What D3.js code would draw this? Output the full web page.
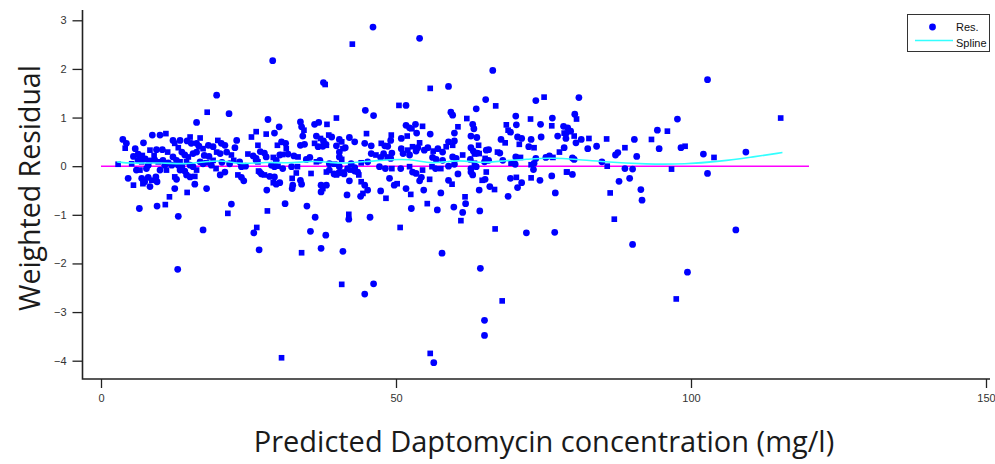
<!DOCTYPE html>
<html>
<head>
<meta charset="utf-8">
<script src="https://cdn.jsdelivr.net/npm/d3@7"></script>
<style>
  body { margin: 0; background: #fff; }
  .tick text { font-family: "Liberation Sans Narrow", "Liberation Sans", Arial, sans-serif; font-size: 11px; fill: #333; }
</style>
</head>
<body>
<svg width="995" height="464"></svg>
<script>
// weighted residuals: [predicted conc (mg/l), residual]
const resPoints = [
  [19.6,1.46],[18.0,1.11],[21.7,1.08],[16.2,0.90],[26.3,0.71],[8.7,0.64],[10.0,0.64],[11.0,0.67],[3.7,0.55],[4.3,0.47],
  [4.1,0.37],[7.2,0.48],[5.8,0.36],[8.3,0.33],[9.4,0.34],[10.4,0.34],[11.3,0.29],[6.3,0.25],[6.6,0.18],[7.0,0.22],
  [7.5,0.15],[6.3,0.12],[6.9,0.09],[8.3,0.11],[9.1,0.13],[9.7,0.09],[10.5,0.12],[11.4,0.07],[12.5,0.47],[13.4,0.53],
  [12.2,0.53],[15.1,0.60],[14.6,0.52],[15.3,0.47],[16.8,0.58],[16.2,0.47],[16.6,0.41],[13.1,0.38],[13.7,0.29],[14.2,0.23],
  [14.8,0.19],[15.6,0.26],[16.2,0.29],[17.3,0.36],[18.2,0.43],[19.0,0.40],[19.8,0.53],[20.4,0.47],[21.0,0.43],[19.6,0.29],
  [20.2,0.26],[21.3,0.29],[22.1,0.23],[22.7,0.38],[23.0,0.53],[24.9,0.25],[25.8,0.21],[26.3,0.12],[26.6,0.43],[23.5,0.09],
  [23.8,-0.01],[23.2,-0.18],[23.8,-0.23],[24.2,-0.30],[26.7,-0.10],[12.2,0.19],[12.8,0.12],[13.4,0.09],[13.1,0.02],[13.7,-0.01],
  [14.5,0.09],[15.1,0.02],[15.6,-0.01],[16.2,-0.08],[14.5,-0.18],[15.1,-0.22],[15.9,-0.21],[16.8,0.09],[17.3,0.05],[17.9,0.07],
  [18.7,0.02],[20.2,-0.18],[11.1,-0.08],[10.0,-0.08],[6.0,-0.08],[6.6,-0.08],[7.7,-0.05],[4.6,-0.25],[5.5,-0.39],[6.9,-0.25],
  [7.4,-0.32],[7.1,-0.36],[8.0,-0.23],[8.3,-0.42],[8.6,-0.29],[9.3,-0.22],[9.5,-0.32],[12.5,-0.22],[12.8,-0.27],[12.5,-0.46],
  [14.6,-0.54],[15.9,-0.37],[17.9,-0.46],[11.6,-0.63],[6.5,-0.87],[9.5,-0.82],[10.9,-0.79],[13.1,-1.03],[22.1,-0.78],[21.5,-0.97],
  [17.3,-1.31],[13.0,-2.12],[26.4,-1.26],[25.9,-1.37],[26.8,-1.72],[2.9,0.04],[13.4,-0.08],[14.2,-0.10],[5.2,0.05],[5.5,0.20],
  [8.0,0.02],[9.0,0.22],[10.8,0.02],[12.0,0.02],[19.0,0.12],[20.5,0.08],[21.8,0.05],[22.5,0.12],[18.3,0.20],[17.5,0.22],
  [19.5,-0.05],[21.0,-0.12],[24.5,0.00],[25.5,0.60],[27.0,0.30],
  [46.1,2.86],[42.6,2.51],[29.1,2.17],[37.7,1.72],[38.0,1.68],[44.8,1.15],[46.2,1.04],[50.5,1.25],[51.7,1.25],[28.3,0.96],
  [39.9,0.99],[33.8,0.91],[34.0,0.81],[34.4,0.74],[36.2,0.86],[36.9,0.90],[38.3,0.86],[30.2,0.81],[29.4,0.68],[28.0,0.66],
  [34.2,0.62],[36.5,0.62],[37.2,0.57],[37.7,0.52],[38.1,0.45],[38.6,0.64],[39.1,0.60],[40.4,0.55],[40.8,0.50],[42.1,0.59],
  [43.0,0.50],[45.0,0.67],[44.7,0.47],[45.8,0.42],[29.9,0.43],[30.6,0.50],[31.3,0.47],[31.4,0.36],[33.8,0.43],[34.5,0.45],
  [36.2,0.47],[36.8,0.40],[37.6,0.41],[38.2,0.43],[39.9,0.42],[40.4,0.29],[41.0,0.36],[41.4,0.38],[40.4,0.19],[40.8,0.14],
  [27.7,0.27],[28.0,0.19],[29.2,0.18],[29.7,0.12],[30.3,0.23],[30.8,0.24],[31.7,0.25],[32.7,0.21],[33.4,0.19],[34.8,0.14],
  [35.4,0.18],[36.5,0.09],[37.1,0.12],[38.7,0.05],[39.6,0.04],[42.4,0.05],[43.0,-0.03],[44.1,0.07],[45.2,0.09],[45.8,0.26],
  [46.6,0.23],[47.4,0.18],[47.9,0.26],[48.5,0.19],[49.1,0.16],[49.3,0.27],[47.5,0.47],[48.1,0.42],[48.6,0.41],[49.2,0.64],
  [49.1,0.53],[50.9,0.57],[51.9,0.62],[51.7,0.84],[52.3,0.79],[52.7,0.77],[50.9,0.36],[51.2,0.26],[52.0,0.33],[52.3,0.23],
  [26.3,0.16],[26.6,0.09],[28.9,0.02],[29.4,-0.01],[30.0,0.00],[30.8,-0.05],[32.3,-0.01],[33.3,-0.01],[26.9,-0.12],[27.2,-0.16],
  [27.7,-0.18],[28.6,-0.21],[29.4,-0.22],[29.2,-0.34],[29.7,-0.37],[30.3,-0.34],[32.4,-0.25],[32.5,-0.39],[32.4,-0.46],[33.1,-0.14],
  [33.8,-0.29],[34.0,-0.37],[35.6,-0.15],[28.1,-0.49],[37.3,-0.39],[37.6,-0.46],[37.3,-0.53],[38.2,-0.39],[38.2,-0.12],[38.7,-0.08],
  [39.5,-0.16],[39.9,-0.18],[40.3,-0.14],[40.4,-0.01],[41.0,-0.12],[41.2,-0.16],[41.8,-0.05],[42.3,-0.08],[43.0,-0.10],[43.5,-0.12],
  [43.7,-0.18],[42.1,-0.30],[41.7,-0.59],[44.1,-0.32],[44.7,-0.39],[45.2,-0.49],[44.4,-0.56],[44.0,-0.62],[47.4,-0.51],[48.3,-0.66],
  [48.9,-0.25],[49.7,-0.39],[50.2,-0.36],[47.2,-0.01],[48.2,-0.05],[49.3,-0.05],[50.8,-0.05],[51.7,-0.46],[52.5,-0.58],[52.6,-0.87],
  [31.2,-0.77],[28.2,-0.92],[34.9,-0.82],[36.3,-1.05],[42.0,-0.99],[42.0,-1.09],[45.6,-1.05],[50.7,-1.26],[35.5,-1.34],[38.1,-1.42],
  [34.0,-1.78],[37.3,-1.69],[41.0,-1.75],[40.8,-2.43],[46.2,-2.42],[44.7,-2.63],[30.6,-3.94],
  [54.0,2.63],[66.4,1.97],[55.8,1.60],[58.9,1.64],[65.2,1.37],[66.9,1.24],[63.6,1.18],[73.7,1.35],[75.1,1.42],[59.3,1.11],
  [59.6,1.05],[62.0,0.98],[63.0,0.86],[63.2,0.77],[60.5,0.81],[59.9,0.68],[53.3,0.86],[54.5,0.82],[53.5,0.68],[55.8,0.66],
  [68.7,0.85],[70.4,0.85],[70.3,1.03],[72.8,0.97],[74.5,0.86],[76.5,0.99],[76.4,0.83],[78.4,0.82],[79.1,0.79],[78.5,0.68],
  [78.8,0.57],[77.4,0.62],[69.0,0.74],[69.4,0.70],[67.8,0.55],[68.5,0.48],[70.6,0.60],[71.3,0.57],[70.9,0.45],[72.9,0.55],
  [72.5,0.40],[73.4,0.38],[74.6,0.60],[78.5,0.38],[77.7,0.29],[63.7,0.59],[62.7,0.62],[64.0,0.43],[62.7,0.38],[63.1,0.31],
  [64.1,0.26],[65.3,0.33],[65.7,0.34],[65.1,0.16],[65.7,0.12],[65.0,0.09],[63.3,0.06],[63.6,-0.01],[62.7,-0.05],[67.2,0.29],
  [67.6,0.27],[68.1,0.12],[69.5,0.06],[70.2,0.04],[70.3,0.19],[71.1,0.18],[73.7,0.16],[73.4,0.06],[72.9,0.03],[75.4,0.18],
  [76.0,0.21],[76.6,0.18],[73.3,-0.07],[69.4,-0.25],[70.4,-0.23],[71.3,-0.34],[70.6,-0.44],[72.9,-0.24],[74.4,-0.29],[76.4,-0.20],
  [78.9,-0.12],[77.0,-0.55],[69.0,-0.62],[66.8,-1.29],[72.1,-1.37],[76.9,-1.36],[52.8,0.40],[53.4,0.31],[53.7,0.38],[54.0,0.48],
  [54.8,0.33],[55.4,0.38],[56.3,0.31],[57.1,0.36],[57.9,0.29],[58.5,0.40],[58.9,0.50],[59.9,0.52],[59.6,0.43],[56.2,0.18],
  [56.8,0.14],[56.1,-0.01],[56.7,-0.05],[57.9,0.12],[57.6,-0.05],[59.6,0.19],[60.2,0.16],[61.3,0.23],[58.9,0.00],[59.9,0.04],
  [52.3,-0.01],[52.8,-0.12],[53.4,-0.15],[54.5,-0.08],[54.3,-0.23],[54.0,-0.30],[55.7,-0.27],[54.7,-0.49],[57.6,-0.55],[55.3,-0.77],
  [57.0,-0.90],[58.9,-0.29],[59.5,-0.37],[60.5,-0.16],[59.8,-0.84],[61.7,-0.63],[61.8,-0.77],[61.3,-0.95],[61.0,-1.12],[64.1,-0.49],
  [64.2,-0.92],[64.6,-0.29],[65.1,-0.27],[65.9,-0.42],[66.7,-0.48],[62.7,-0.12],[63.0,-0.18],[65.3,-0.12],[57.8,-1.79],[64.3,-2.10],
  [68.0,-2.77],[65.0,-3.17],[65.0,-3.48],[55.8,-3.85],[56.4,-4.04],[62.6,0.14],[63.3,0.25],[63.8,0.27],
  [102.8,1.78],[115.2,0.99],[81.0,1.41],[80.3,1.07],[80.6,0.97],[79.6,0.72],[78.8,0.67],[80.2,0.62],[80.5,0.48],[81.4,0.55],
  [82.7,0.57],[82.5,0.36],[84.0,0.41],[85.7,0.56],[80.2,0.14],[79.9,0.17],[79.0,-0.12],[79.9,-0.17],[84.9,0.09],[85.8,0.00],
  [87.2,0.23],[87.6,0.28],[88.8,0.38],[90.8,0.20],[90.4,0.55],[93.3,0.55],[94.3,0.74],[94.6,0.36],[96.0,0.72],[97.7,0.97],
  [98.3,0.38],[99.0,0.41],[88.8,-0.05],[90.1,-0.06],[96.7,-0.06],[87.8,-0.31],[89.6,-0.25],[86.3,-0.55],[91.5,-0.48],[91.7,-0.70],
  [87.0,-1.09],[90.1,-1.61],[99.4,-2.18],[97.5,-2.73],[107.6,-1.31],[102.1,0.25],[103.9,0.18],[109.3,0.29],[102.8,-0.15]
]

// spline through the residuals
const splinePoints = [
  [2.7,0.09],[4.9,0.055],[10.5,0.075],[13.9,0.035],[18,0.10],[20.7,0.12],[23.6,0.035],[28.1,0.09],[31.5,0.055],
  [35.9,0.11],[38.8,0.08],[41,0.05],[46.8,0.12],[52.7,0.16],[55.8,0.035],[60.8,0.14],[64.2,0.055],[68.8,0.12],
  [72,0.14],[76,0.17],[80,0.15],[85,0.09],[92.5,0.04],[99,0.04],[105,0.10],[110,0.18],[115.5,0.28]
]

const zeroLine = [[0, 0], [120, 0]]

const xTicks = [0, 50, 100, 150]
const yTicks = [-4, -3, -2, -1, 0, 1, 2, 3]

const legendItems = ['Res.', 'Spline']

const svg = d3.select('svg')

const x = d3.scaleLinear().domain([0, 150]).range([101, 986])
const y = d3.scaleLinear().domain([-4, 3]).range([360.7, 20.3])

// axes: open frame, left + bottom
const axisLeftX = 82.5
const axisBottomY = 379

svg.append('g')
  .attr('transform', `translate(${axisLeftX},0)`)
  .call(d3.axisLeft(y).tickValues(yTicks).tickFormat(d3.format('d')).tickSize(10).tickPadding(6).tickSizeOuter(0))
  .call(g => g.select('.domain').remove())
  .call(g => g.selectAll('.tick line').attr('stroke', '#222').attr('stroke-width', 1.3))

svg.append('g')
  .attr('transform', `translate(0,${axisBottomY})`)
  .call(d3.axisBottom(x).tickValues(xTicks).tickFormat(d3.format('d')).tickSize(9).tickPadding(6).tickSizeOuter(0))
  .call(g => g.select('.domain').remove())
  .call(g => g.selectAll('.tick line').attr('stroke', '#222').attr('stroke-width', 1.3))

svg.append('path')
  .attr('d', `M${axisLeftX},10V${axisBottomY}H990`)
  .attr('fill', 'none')
  .attr('stroke', '#222')
  .attr('stroke-width', 1.6)

// zero reference
const line = d3.line().x(d => x(d[0])).y(d => y(d[1]))

svg.append('path')
  .datum(zeroLine)
  .attr('d', line)
  .attr('fill', 'none')
  .attr('stroke', '#ff00ff')
  .attr('stroke-width', 1.5)

// residual points
const dot = d3.symbol().type(d3.symbolCircle).size(36)
const sq = d3.symbol().type(d3.symbolSquare).size(32)

svg.append('g')
  .selectAll('path')
  .data(resPoints)
  .join('path')
    .attr('transform', d => `translate(${x(d[0])},${y(d[1])})`)
    .attr('d', (d, i) => i % 3 === 1 ? sq() : dot())
    .attr('fill', '#0000ff')

// spline on top
svg.append('path')
  .datum(splinePoints)
  .attr('d', line.curve(d3.curveBasis))
  .attr('fill', 'none')
  .attr('stroke', '#33ffff')
  .attr('stroke-width', 1.6)

// legend
const legend = svg.append('g')
legend.append('rect')
  .attr('x', 907.5).attr('y', 14.5).attr('width', 82).attr('height', 37)
  .attr('fill', '#fff').attr('stroke', '#333').attr('stroke-width', 1)
legend.append('path')
  .attr('transform', 'translate(932.5,27)')
  .attr('d', dot())
  .attr('fill', '#0000ff')
legend.append('line')
  .attr('x1', 915).attr('x2', 953).attr('y1', 40.5).attr('y2', 40.5)
  .attr('stroke', '#33ffff').attr('stroke-width', 1.6)
legend.selectAll('text')
  .data(legendItems)
  .join('text')
    .attr('x', 956)
    .attr('y', (d, i) => 31 + i * 16)
    .attr('font-family', '"Liberation Sans", Arial, sans-serif')
    .attr('font-size', 11)
    .attr('fill', '#111')
    .text(d => d)

// axis titles
svg.append('text')
  .attr('transform', 'translate(40,188) rotate(-90)')
  .attr('text-anchor', 'middle')
  .attr('font-family', '"Open Sans", sans-serif')
  .attr('font-size', 28.5)
  .attr('fill', '#1a1a1a')
  .text('Weighted Residual')

svg.append('text')
  .attr('x', 544)
  .attr('y', 452)
  .attr('text-anchor', 'middle')
  .attr('font-family', '"Open Sans", sans-serif')
  .attr('font-size', 29)
  .attr('fill', '#1a1a1a')
  .text('Predicted Daptomycin concentration (mg/l)')
</script>
</body>
</html>
